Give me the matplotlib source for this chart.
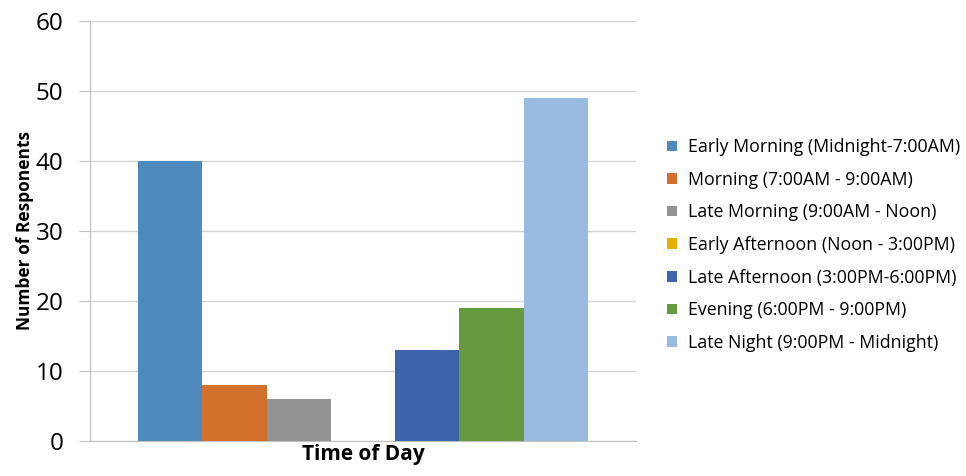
import matplotlib.pyplot as plt
from matplotlib.patches import Patch

categories = [
    'Early Morning (Midnight-7:00AM)',
    'Morning (7:00AM - 9:00AM)',
    'Late Morning (9:00AM - Noon)',
    'Early Afternoon (Noon - 3:00PM)',
    'Late Afternoon (3:00PM-6:00PM)',
    'Evening (6:00PM - 9:00PM)',
    'Late Night (9:00PM - Midnight)',
]
responses = [40, 8, 6, 0, 13, 19, 49]
colors = ['#4e8abe', '#d3702b', '#939393', '#e5ae00', '#3d63ac', '#659a3e', '#99bbe1']
yticks = [0, 10, 20, 30, 40, 50, 60]

plt.rcParams['font.family'] = ['Open Sans', 'DejaVu Sans']

fig = plt.figure(figsize=(9.66, 4.76), dpi=100)
ax = fig.add_axes([90 / 966, 35 / 476, 546 / 966, 420 / 476])

x = list(range(len(categories)))
ax.bar(x, responses, width=1.0, color=colors, zorder=3)

ax.set_xlim(-1.25, 7.25)
ax.set_ylim(0, 60)
ax.set_yticks(yticks)
ax.set_xticks([])
ax.tick_params(axis='y', labelsize=17.5, length=8, color='#bfbfbf', pad=11)
ax.yaxis.grid(True, color='#d4d4d4', linewidth=1, zorder=0)
for s in ['top', 'right']:
    ax.spines[s].set_visible(False)
for s in ['left', 'bottom']:
    ax.spines[s].set_color('#bfbfbf')

ax.set_ylabel('Number of Responents', fontsize=12.5, fontweight='bold', labelpad=1)
ax.set_xlabel('Time of Day', fontsize=15, fontweight='bold', labelpad=2)

handles = [Patch(facecolor=c, edgecolor='none') for c in colors]
fig.legend(handles, categories, loc='center left', bbox_to_anchor=(660 / 966, (476 - 245) / 476),
           frameon=False, fontsize=12.8, handlelength=0.55, handleheight=0.55,
           handletextpad=0.6, labelspacing=0.82, borderaxespad=0)

fig.savefig('out.png', dpi=100)
